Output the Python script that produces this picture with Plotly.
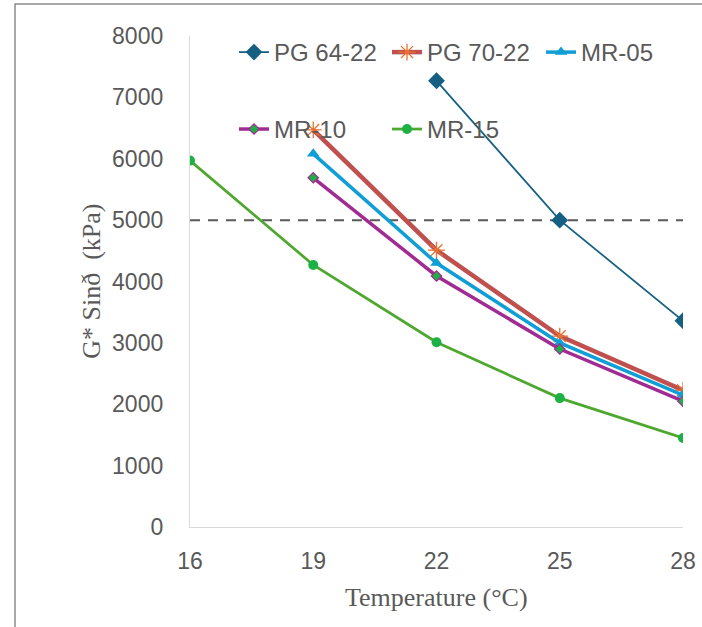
import plotly.graph_objects as go

# ---- data ----
temps_pg6422 = [22, 25, 28]
pg6422 = [7270, 5000, 3360]

temps_pg7022 = [19, 22, 25, 28]
pg7022 = [6470, 4510, 3110, 2230]

temps_mr05 = [19, 22, 25, 28]
mr05 = [6080, 4300, 3000, 2150]

temps_mr10 = [19, 22, 25, 28]
mr10 = [5690, 4090, 2900, 2050]

temps_mr15 = [16, 19, 22, 25, 28]
mr15 = [5970, 4270, 3010, 2100, 1450]

threshold_x = [16, 28]
threshold_y = [5000, 5000]

x_ticks = [16, 19, 22, 25, 28]
y_ticks = [0, 1000, 2000, 3000, 4000, 5000, 6000, 7000, 8000]

# ---- layout geometry (pixels) ----
W, H = 702, 627
L, R, T, B = 190, 19, 36, 99.5
pw = W - L - R
ph = H - T - B

def px_x(x):
    return (x - L) / pw

def px_y(y):
    return (H - B - y) / ph

fig = go.Figure()

fig.add_trace(go.Scatter(
    x=threshold_x, y=threshold_y, mode="lines", showlegend=False,
    line=dict(color="#595959", width=2, dash="10px,8px"), hoverinfo="skip"))

fig.add_trace(go.Scatter(
    x=temps_pg6422, y=pg6422, name="PG 64-22", mode="lines+markers",
    line=dict(color="#156082", width=1.75),
    marker=dict(symbol="diamond", size=13, color="#156082"),
    legend="legend"))

fig.add_trace(go.Scatter(
    x=temps_pg7022, y=pg7022, name="PG 70-22", mode="lines+markers",
    line=dict(color="#C0504D", width=4.5),
    marker=dict(symbol="asterisk-open", size=14, color="#E97132",
                line=dict(color="#E97132", width=1.3)),
    legend="legend2"))

fig.add_trace(go.Scatter(
    x=temps_mr05, y=mr05, name="MR-05", mode="lines+markers",
    line=dict(color="#0F9ED5", width=3.5),
    marker=dict(symbol="triangle-up", size=11, color="#0F9ED5"),
    legend="legend3"))

fig.add_trace(go.Scatter(
    x=temps_mr10, y=mr10, name="MR-10", mode="lines+markers",
    line=dict(color="#A02B93", width=3.5),
    marker=dict(symbol="diamond", size=8, color="#1DB045",
                line=dict(color="#A02B93", width=1.2)),
    legend="legend4"))

fig.add_trace(go.Scatter(
    x=temps_mr15, y=mr15, name="MR-15", mode="lines+markers",
    line=dict(color="#4EA72E", width=2.75),
    marker=dict(symbol="circle", size=10, color="#1DB045"),
    legend="legend5"))

tickfont = dict(family="Liberation Sans, Arial, sans-serif", size=23, color="#595959")
legfont = dict(family="Liberation Sans, Arial, sans-serif", size=24, color="#595959")

def leg(xpx, ypx):
    return dict(orientation="v", x=px_x(xpx), y=px_y(ypx), xanchor="left", yanchor="top",
                font=legfont, bgcolor="rgba(0,0,0,0)", itemsizing="trace")

fig.update_layout(
    width=W, height=H,
    margin=dict(l=L, r=R, t=T, b=B, pad=0),
    paper_bgcolor="white", plot_bgcolor="white",
    xaxis=dict(range=[16, 28], tickvals=x_ticks, ticktext=[str(v) for v in x_ticks],
               showgrid=False, zeroline=False, showline=True, linecolor="#D9D9D9",
               linewidth=1.3, ticks="", tickfont=tickfont, ticklabelstandoff=13,
               automargin=False),
    yaxis=dict(range=[0, 8000], tickvals=y_ticks, ticktext=[str(v) for v in y_ticks],
               showgrid=False, zeroline=False, showline=True, linecolor="#D9D9D9",
               linewidth=1.3, ticks="", tickfont=tickfont, ticklabelstandoff=21,
               automargin=False),
    legend=leg(234, 30),
    legend2=leg(387, 30),
    legend3=leg(541, 30),
    legend4=leg(234, 107),
    legend5=leg(387, 107),
    showlegend=True,
    annotations=[
        dict(text="G* Sinð  (kPa)", xref="paper", yref="paper", x=px_x(92), y=px_y(282),
             textangle=-90, showarrow=False, xanchor="center", yanchor="middle",
             font=dict(family="Liberation Serif, Times New Roman, serif", size=26, color="#595959")),
        dict(text="Temperature (°C)", xref="paper", yref="paper", x=px_x(436), y=px_y(598),
             showarrow=False, xanchor="center", yanchor="middle",
             font=dict(family="Liberation Serif, Times New Roman, serif", size=26, color="#595959")),
    ],
    shapes=[
        dict(type="rect", xref="paper", yref="paper", x0=px_x(15), y0=px_y(700),
             x1=px_x(760), y1=px_y(4), line=dict(color="#8C8C8C", width=1.5),
             fillcolor="rgba(0,0,0,0)", layer="below"),
    ],
)

fig.write_html("out.html")
